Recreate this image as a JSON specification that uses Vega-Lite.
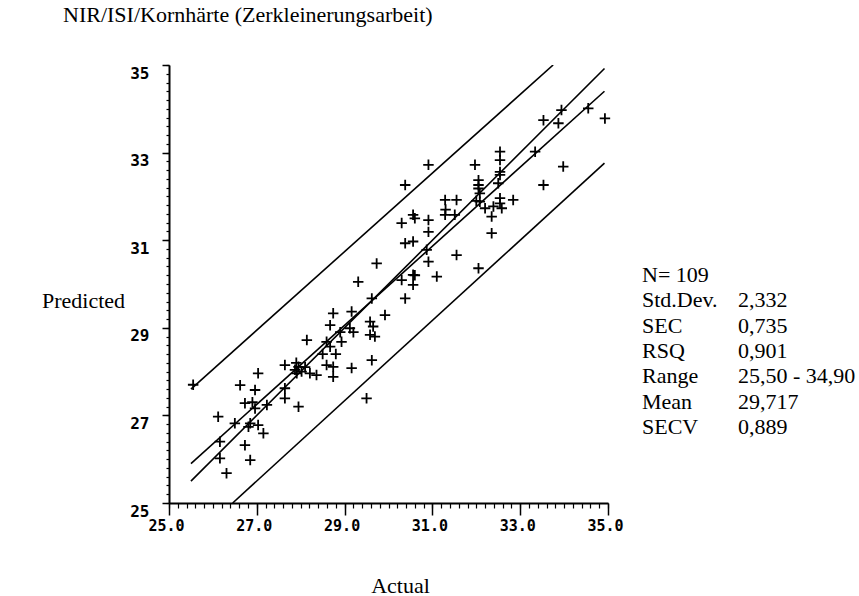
{
  "$schema": "https://vega.github.io/schema/vega-lite/v6.json",
  "width": 439,
  "height": 438,
  "autosize": {"type": "none"},
  "padding": {"left": 169, "top": 65, "right": 251, "bottom": 93},
  "background": "white",
  "config": {
    "view": {"stroke": null},
    "axis": {"grid": false, "domainColor": "black", "tickColor": "black", "labelColor": "black", "titleColor": "black"}
  },
  "title": {
    "text": "NIR/ISI/Kornhärte (Zerkleinerungsarbeit)",
    "anchor": "start",
    "frame": "group",
    "dx": -106,
    "offset": 27,
    "baseline": "middle",
    "font": "Liberation Serif",
    "fontSize": 22,
    "fontWeight": "normal",
    "color": "black"
  },
  "datasets": {
    "lines": [
      {"line": "upper", "x": 25.5, "y": 27.6},
      {"line": "upper", "x": 33.75, "y": 35.0},
      {"line": "regression", "x": 25.5, "y": 25.9},
      {"line": "regression", "x": 34.92, "y": 34.4},
      {"line": "identity", "x": 25.5, "y": 25.5},
      {"line": "identity", "x": 34.92, "y": 34.92},
      {"line": "lower", "x": 26.45, "y": 25.0},
      {"line": "lower", "x": 34.92, "y": 32.76}
    ],
    "points": [
      {"x": 25.55, "y": 27.70}, {"x": 29.31, "y": 30.05}, {"x": 29.62, "y": 29.67}, {"x": 28.74, "y": 29.33},
      {"x": 29.16, "y": 29.37}, {"x": 29.92, "y": 29.29}, {"x": 29.58, "y": 29.14}, {"x": 29.65, "y": 29.03},
      {"x": 29.58, "y": 28.84}, {"x": 29.69, "y": 28.80}, {"x": 28.67, "y": 29.06}, {"x": 29.12, "y": 28.99},
      {"x": 28.14, "y": 28.72}, {"x": 28.59, "y": 28.68}, {"x": 28.93, "y": 28.68}, {"x": 28.67, "y": 28.57},
      {"x": 27.64, "y": 28.15}, {"x": 27.95, "y": 28.11}, {"x": 27.87, "y": 28.04}, {"x": 27.91, "y": 27.96},
      {"x": 28.02, "y": 28.00}, {"x": 28.21, "y": 27.96}, {"x": 28.36, "y": 27.92}, {"x": 28.59, "y": 28.15},
      {"x": 28.74, "y": 28.11}, {"x": 28.74, "y": 27.88}, {"x": 29.16, "y": 28.08}, {"x": 29.62, "y": 28.26},
      {"x": 27.03, "y": 27.96}, {"x": 26.62, "y": 27.69}, {"x": 26.96, "y": 27.58}, {"x": 27.64, "y": 27.62},
      {"x": 27.64, "y": 27.39}, {"x": 26.73, "y": 27.28}, {"x": 27.23, "y": 27.24}, {"x": 26.96, "y": 27.16},
      {"x": 27.95, "y": 27.20}, {"x": 29.50, "y": 27.39}, {"x": 26.12, "y": 26.97}, {"x": 26.50, "y": 26.82},
      {"x": 26.85, "y": 26.82}, {"x": 27.03, "y": 26.78}, {"x": 26.81, "y": 26.74}, {"x": 27.15, "y": 26.59},
      {"x": 26.16, "y": 26.40}, {"x": 26.73, "y": 26.32}, {"x": 26.16, "y": 26.02}, {"x": 26.85, "y": 25.98},
      {"x": 26.31, "y": 25.68}, {"x": 33.94, "y": 33.97}, {"x": 34.55, "y": 34.01}, {"x": 34.93, "y": 33.78},
      {"x": 33.53, "y": 33.74}, {"x": 33.87, "y": 33.67}, {"x": 33.34, "y": 33.02}, {"x": 33.98, "y": 32.68},
      {"x": 33.53, "y": 32.26}, {"x": 30.91, "y": 32.72}, {"x": 31.97, "y": 32.72}, {"x": 32.54, "y": 33.02},
      {"x": 32.54, "y": 32.83}, {"x": 32.54, "y": 32.56}, {"x": 32.54, "y": 32.49}, {"x": 32.05, "y": 32.37},
      {"x": 32.05, "y": 32.26}, {"x": 32.05, "y": 32.18}, {"x": 32.08, "y": 32.07}, {"x": 30.38, "y": 32.26},
      {"x": 31.29, "y": 31.92}, {"x": 31.55, "y": 31.92}, {"x": 31.29, "y": 31.58}, {"x": 31.51, "y": 31.58},
      {"x": 32.08, "y": 31.88}, {"x": 32.20, "y": 31.73}, {"x": 32.39, "y": 31.77}, {"x": 32.54, "y": 31.96},
      {"x": 32.54, "y": 31.84}, {"x": 32.58, "y": 31.73}, {"x": 32.84, "y": 31.92}, {"x": 32.35, "y": 31.54},
      {"x": 32.35, "y": 31.16}, {"x": 30.56, "y": 31.58}, {"x": 30.60, "y": 31.50}, {"x": 30.30, "y": 31.39},
      {"x": 30.91, "y": 31.46}, {"x": 30.91, "y": 31.19}, {"x": 30.38, "y": 30.93}, {"x": 30.56, "y": 30.97},
      {"x": 30.87, "y": 30.78}, {"x": 30.91, "y": 30.51}, {"x": 31.55, "y": 30.66}, {"x": 32.05, "y": 30.36},
      {"x": 31.10, "y": 30.17}, {"x": 30.56, "y": 30.21}, {"x": 30.56, "y": 29.98}, {"x": 30.30, "y": 30.09},
      {"x": 29.73, "y": 30.47}, {"x": 30.38, "y": 29.67}, {"x": 28.10, "y": 28.10}, {"x": 27.90, "y": 28.20},
      {"x": 28.50, "y": 28.40}, {"x": 28.90, "y": 28.90}, {"x": 29.20, "y": 28.90}, {"x": 32.00, "y": 31.90},
      {"x": 32.50, "y": 32.30}, {"x": 31.30, "y": 31.70}, {"x": 30.60, "y": 30.20}, {"x": 26.90, "y": 27.30},
      {"x": 28.80, "y": 28.40}
    ],
    "stats": [
      {"order": 1, "label": "N= 109", "value": ""},
      {"order": 2, "label": "Std.Dev.", "value": "2,332"},
      {"order": 3, "label": "SEC", "value": "0,735"},
      {"order": 4, "label": "RSQ", "value": "0,901"},
      {"order": 5, "label": "Range", "value": "25,50 - 34,90"},
      {"order": 6, "label": "Mean", "value": "29,717"},
      {"order": 7, "label": "SECV", "value": "0,889"}
    ]
  },
  "layer": [
    {
      "layer": [
        {
          "data": {"name": "lines"},
          "mark": {"type": "line", "color": "black", "strokeWidth": 1.6, "clip": true},
          "encoding": {
            "x": {
              "field": "x", "type": "quantitative",
              "scale": {"domain": [25, 35], "nice": false, "zero": false},
              "axis": {
                "orient": "bottom",
                "values": [25, 27, 29, 31, 33, 35],
                "format": ".1f",
                "tickSize": 12, "tickWidth": 1.5, "domainWidth": 2,
                "labelFont": "DejaVu Sans Mono", "labelFontWeight": "bold", "labelFontSize": 15,
                "labelPadding": 3, "labelOffset": -3, "labelFlush": false, "labelOverlap": false, "labelBound": false,
                "title": "Actual", "titleFont": "Liberation Serif", "titleFontWeight": "normal", "titleFontSize": 22,
                "titleX": 231, "titleY": 82, "titleAlign": "center", "titleBaseline": "middle"
              }
            },
            "y": {
              "field": "y", "type": "quantitative",
              "scale": {"domain": [25, 35], "nice": false, "zero": false},
              "axis": {
                "orient": "left",
                "values": [25, 27, 29, 31, 33, 35],
                "format": "d",
                "tickSize": 7, "tickWidth": 1.5, "domainWidth": 2,
                "labelFont": "DejaVu Sans Mono", "labelFontWeight": "bold", "labelFontSize": 16,
                "labelPadding": 13, "labelOffset": 8, "labelFlush": false, "labelOverlap": false, "labelBound": false,
                "title": "Predicted", "titleFont": "Liberation Serif", "titleFontWeight": "normal", "titleFontSize": 22,
                "titleAngle": 0, "titleX": -86, "titleY": 235, "titleAlign": "center", "titleBaseline": "middle"
              }
            },
            "detail": {"field": "line"}
          }
        },
        {
          "data": {"name": "points"},
          "mark": {"type": "point", "shape": "M-1,0L1,0M0,-1L0,1", "size": 110, "strokeWidth": 1.8, "color": "black", "filled": false, "opacity": 1},
          "encoding": {
            "x": {
              "field": "x", "type": "quantitative",
              "axis": {
                "orient": "bottom",
                "values": [25, 25.2, 25.4, 25.6, 25.8, 26, 26.2, 26.4, 26.6, 26.8, 27, 27.2, 27.4, 27.6, 27.8, 28, 28.2, 28.4, 28.6, 28.8, 29, 29.2, 29.4, 29.6, 29.8, 30, 30.2, 30.4, 30.6, 30.8, 31, 31.2, 31.4, 31.6, 31.8, 32, 32.2, 32.4, 32.6, 32.8, 33, 33.2, 33.4, 33.6, 33.8, 34, 34.2, 34.4, 34.6, 34.8, 35],
                "tickSize": 5, "tickWidth": 1.2, "labels": false, "domain": false, "title": null
              }
            },
            "y": {
              "field": "y", "type": "quantitative",
              "axis": {
                "orient": "left",
                "values": [25, 25.2, 25.4, 25.6, 25.8, 26, 26.2, 26.4, 26.6, 26.8, 27, 27.2, 27.4, 27.6, 27.8, 28, 28.2, 28.4, 28.6, 28.8, 29, 29.2, 29.4, 29.6, 29.8, 30, 30.2, 30.4, 30.6, 30.8, 31, 31.2, 31.4, 31.6, 31.8, 32, 32.2, 32.4, 32.6, 32.8, 33, 33.2, 33.4, 33.6, 33.8, 34, 34.2, 34.4, 34.6, 34.8, 35],
                "tickSize": 3, "tickWidth": 1.2, "labels": false, "domain": false, "title": null
              }
            }
          }
        }
      ],
      "resolve": {"axis": {"x": "independent", "y": "independent"}}
    },
    {
      "data": {"name": "stats"},
      "transform": [{"fold": ["label", "value"], "as": ["col", "txt"]}],
      "mark": {"type": "text", "align": "left", "baseline": "middle", "font": "Liberation Serif", "fontSize": 22, "color": "black"},
      "encoding": {
        "x": {"field": "col", "type": "nominal", "scale": {"type": "point", "range": [473, 569], "padding": 0}, "axis": null},
        "y": {"field": "order", "type": "ordinal", "scale": {"type": "point", "range": [210, 362], "padding": 0}, "axis": null},
        "text": {"field": "txt"}
      }
    }
  ],
  "resolve": {"scale": {"x": "independent", "y": "independent"}, "axis": {"x": "independent", "y": "independent"}}
}
